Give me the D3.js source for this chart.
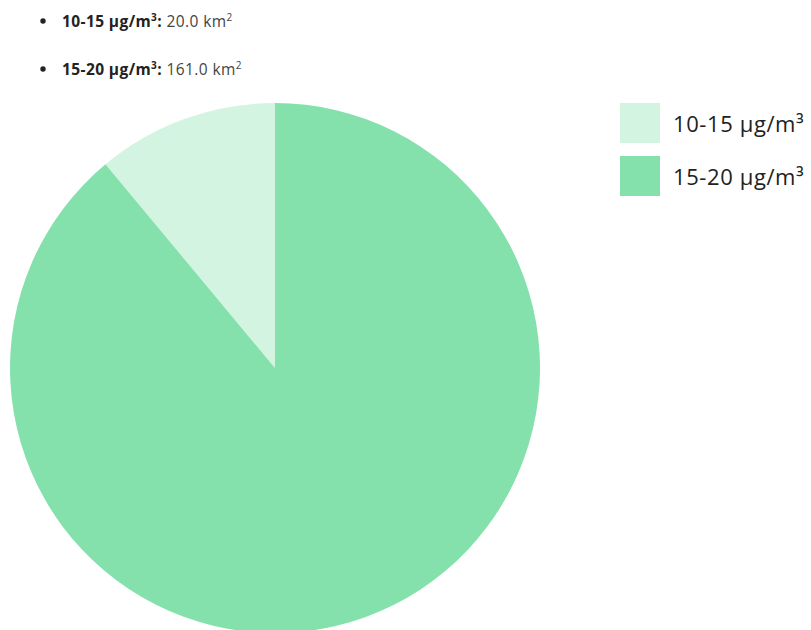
<!DOCTYPE html>
<html>
<head>
<meta charset="utf-8">
<script src="https://cdn.jsdelivr.net/npm/d3@7"></script>
<style>
  body { margin: 0; background: #fff; }
  svg { display: block; font-family: "Open Sans", "Noto Sans", sans-serif; }
</style>
</head>
<body>
<svg width="811" height="630"></svg>
<script>
// data
var categories = ["10-15 µg/m³", "15-20 µg/m³"];
var areas = [20.0, 161.0];
var colors = ["#d4f4e2", "#84e1ac"];

var svg = d3.select("svg");

// bullet list on top
var list = svg.append("g").attr("class", "list");
categories.forEach(function(c, i) {
  var y = 27 + i * 48;
  list.append("circle")
      .attr("cx", 43).attr("cy", y - 6).attr("r", 2.7)
      .attr("fill", "#222");
  var t = list.append("text")
      .attr("x", 62).attr("y", y)
      .attr("font-size", 15.5).attr("letter-spacing", 0.4).attr("fill", "#222");
  var lbl = c.replace("³", "");
  t.append("tspan").attr("font-weight", "bold").text(lbl);
  t.append("tspan").attr("font-weight", "bold").attr("font-size", 10).attr("dy", -6).text("3");
  t.append("tspan").attr("font-weight", "bold").attr("dy", 6).text(":");
  t.append("tspan").attr("fill", "#444").text(" " + areas[i].toFixed(1) + " km");
  t.append("tspan").attr("fill", "#444").attr("font-size", 10).attr("dy", -6).text("2");
});

// pie
var cx = 275, cy = 368, radius = 265;

var pie = d3.pie()
    .sort(null)
    .startAngle(0)
    .endAngle(-2 * Math.PI);

var arc = d3.arc().innerRadius(0).outerRadius(radius);

svg.append("g")
    .attr("transform", "translate(" + cx + "," + cy + ")")
  .selectAll("path")
  .data(pie(areas))
  .enter()
  .append("path")
    .attr("d", arc)
    .attr("fill", function(d, i) { return colors[i]; });

// legend
var legend = svg.append("g").attr("transform", "translate(620,103)");
var item = legend.selectAll("g")
  .data(categories)
  .enter()
  .append("g")
    .attr("transform", function(d, i) { return "translate(0," + (i * 53) + ")"; });

item.append("rect")
    .attr("width", 40).attr("height", 40)
    .attr("fill", function(d, i) { return colors[i]; });

item.append("text")
    .attr("x", 53).attr("y", 29)
    .attr("font-size", 22).attr("letter-spacing", 0.6).attr("fill", "#222")
    .text(function(d) { return d; });
</script>
</body>
</html>
